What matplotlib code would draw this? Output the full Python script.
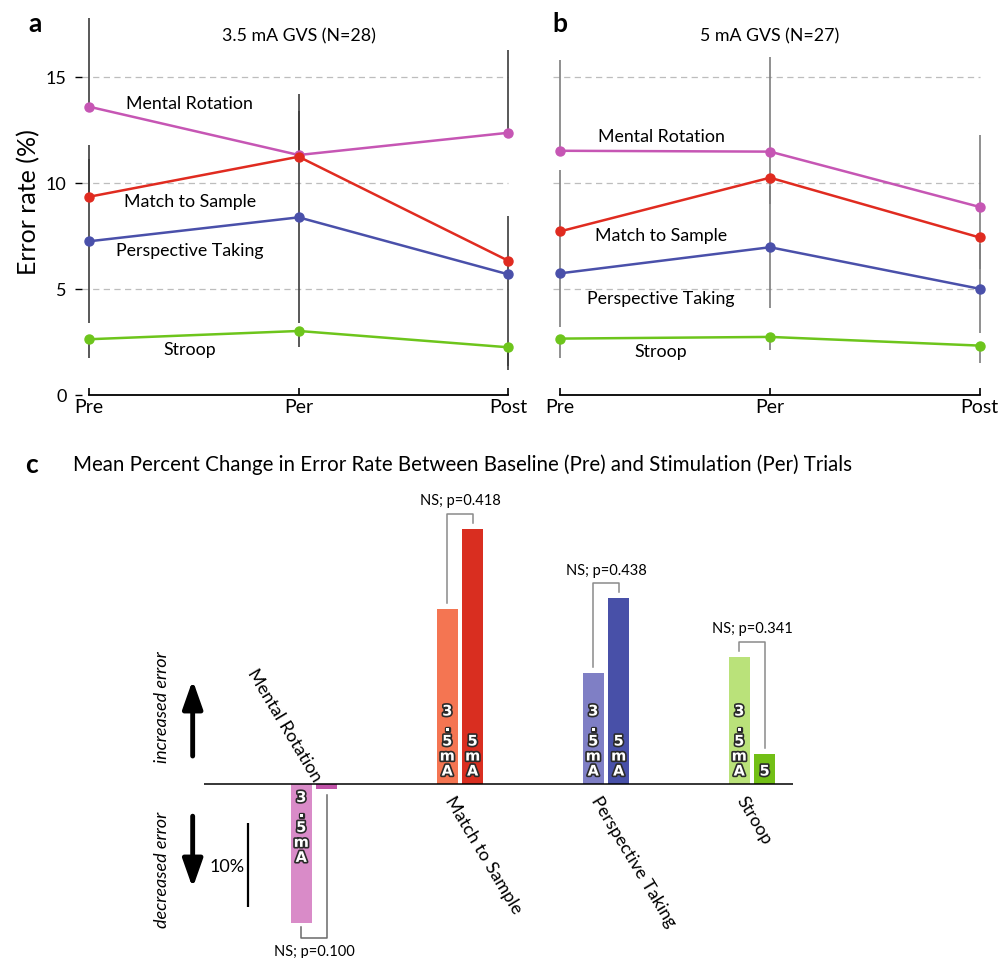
import matplotlib
matplotlib.use("Agg")
import matplotlib.pyplot as plt
import matplotlib.patheffects as pe
import numpy as np

plt.rcParams["font.family"] = ["Lato", "DejaVu Sans"]

PHASES = ["Pre", "Per", "Post"]
TASKS = ["Mental Rotation", "Match to Sample", "Perspective Taking", "Stroop"]

# panel a: 3.5 mA GVS, error rate (%)
MR_35 = [13.6, 11.32, 12.37]
MS_35 = [9.35, 11.24, 6.33]
PT_35 = [7.25, 8.38, 5.69]
ST_35 = [2.63, 3.02, 2.25]
# error bar extents (up / down)
MR_35_UP = [4.2, 2.9, 3.9]
MR_35_DN = [0, 0, 0]
MS_35_UP = [2.45, 0, 2.1]
MS_35_DN = [0, 0, 0]
PT_35_UP = [3.87, 5.0, 0.7]
PT_35_DN = [3.87, 5.0, 4.3]
ST_35_UP = [0, 0, 0]
ST_35_DN = [0.88, 0.74, 1.07]

# panel b: 5 mA GVS
MR_5 = [11.52, 11.48, 8.87]
MS_5 = [7.72, 10.25, 7.43]
PT_5 = [5.74, 6.97, 5.01]
ST_5 = [2.66, 2.74, 2.33]
MR_5_UP = [4.28, 4.48, 3.39]
MR_5_DN = [0, 0, 0]
MS_5_UP = [2.89, 1.25, 1.5]
MS_5_DN = [0, 1.25, 1.5]
PT_5_UP = [2.52, 2.88, 2.1]
PT_5_DN = [2.52, 2.88, 2.1]
ST_5_UP = [0, 0, 0]
ST_5_DN = [0.93, 0.62, 0.81]

# panel c: mean percent change Pre -> Per
CHANGE_35 = [-16.6, 20.8, 13.25, 15.1]
CHANGE_5 = [-0.55, 30.4, 22.1, 3.57]
P_VALUES = [0.100, 0.418, 0.438, 0.341]
BAR_TEXT_35 = ["3.5mA", "3.5mA", "3.5mA", "3.5mA"]
BAR_TEXT_5 = ["", "5mA", "5mA", "5"]

LINE_COLORS = ["#c656b4", "#e02b20", "#4a50aa", "#6dc51c"]
COL_35 = ["#d98bc8", "#f47552", "#7f7fc5", "#bae27a"]
COL_5 = ["#c052a8", "#d92e20", "#4850a8", "#72bf16"]

W, H = 1003, 958
fig = plt.figure(figsize=(W / 100, H / 100), dpi=100)

PX_X = 209.7  # px per phase step
PX_Y = 21.2   # px per error-rate unit


def line_panel(left_px, pre_px, right_px, series, title, show_y, err_color, label_y):
    ax = fig.add_axes([left_px / W, (H - 395) / H, (right_px - left_px) / W, 385 / H])
    ax.set_xlim((left_px - pre_px) / PX_X, (right_px - pre_px) / PX_X)
    ax.set_ylim(0, 385 / PX_Y)
    x = np.arange(len(PHASES))

    for yv in [5, 10, 15]:
        ax.plot([ax.get_xlim()[0], 2], [yv, yv], color="#bdbdbd", lw=0.9,
                ls=(0, (5, 3.5)), zorder=1)

    for i, (vals, up, dn) in enumerate(series):
        vals = np.array(vals)
        lo = vals - np.array(dn)
        hi = vals + np.array(up)
        ax.vlines(x, lo, hi, color=err_color, lw=1.2, zorder=2)
        ax.plot(x, vals, color=LINE_COLORS[i], lw=1.8, zorder=3)
        ax.plot(x, vals, "o", color=LINE_COLORS[i], ms=6.5, zorder=4)
        ax.text(0.48, label_y[i], TASKS[i], ha="center", va="center", fontsize=12.8)

    ax.text(1, 16.9, title, ha="center", va="center", fontsize=12.8)

    for s in ["top", "right", "left"]:
        ax.spines[s].set_visible(False)
    ax.spines["bottom"].set_bounds(0, 2)
    ax.spines["bottom"].set_linewidth(1.3)
    ax.set_xticks(x)
    ax.set_xticklabels(PHASES, fontsize=14)
    ax.tick_params(axis="x", direction="in", length=5, width=1.2, pad=3)
    if show_y:
        ax.set_yticks([0, 5, 10, 15])
        ax.tick_params(axis="y", direction="out", length=5, width=1.0, pad=6,
                       labelsize=13)
        ax.set_ylabel("Error rate (%)", fontsize=18, labelpad=4)
    else:
        ax.set_yticks([])
    ax.patch.set_visible(False)
    return ax


line_panel(82, 89, 520,
           [(MR_35, MR_35_UP, MR_35_DN), (MS_35, MS_35_UP, MS_35_DN),
            (PT_35, PT_35_UP, PT_35_DN), (ST_35, ST_35_UP, ST_35_DN)],
           "3.5 mA GVS (N=28)", True, "#3c3c3c", [13.73, 9.1, 6.81, 2.12])
line_panel(553, 560.3, 995,
           [(MR_5, MR_5_UP, MR_5_DN), (MS_5, MS_5_UP, MS_5_DN),
            (PT_5, PT_5_UP, PT_5_DN), (ST_5, ST_5_UP, ST_5_DN)],
           "5 mA GVS (N=27)", False, "#7d7d7d", [12.15, 7.51, 4.51, 2.01])

fig.text(35 / W, 1 - 24 / H, "a", fontsize=19, fontweight="bold", ha="center", va="center")
fig.text(560 / W, 1 - 24 / H, "b", fontsize=19, fontweight="bold", ha="center", va="center")
fig.text(32 / W, 1 - 465 / H, "c", fontsize=19, fontweight="bold", ha="center", va="center")
fig.text(73 / W, 1 - 465 / H,
         "Mean Percent Change in Error Rate Between Baseline (Pre) and Stimulation (Per) Trials",
         fontsize=14.8, ha="left", va="center")

# panel c
GX = 146.0   # px per group
GY = 8.4     # px per percent
ax = fig.add_axes([0, 0, 1, 478 / H])
ax.set_xlim(-314 / GX, (W - 314) / GX)
ax.set_ylim(-(H - 784) / GY, 304 / GY)
ax.axis("off")

gx = np.arange(len(TASKS))
bw = 20.5 / GX
off = 12.7 / GX
ax.bar(gx - off, CHANGE_35, width=bw, color=COL_35, zorder=2)
ax.bar(gx + off, CHANGE_5, width=bw, color=COL_5, zorder=2)
ax.hlines(0, -0.75, 3.28, color="black", lw=1.1, zorder=3)

stroke = [pe.withStroke(linewidth=2.4, foreground="#2a2a2a")]
for i in range(len(TASKS)):
    for xc, val, txt in [(gx[i] - off, CHANGE_35[i], BAR_TEXT_35[i]),
                         (gx[i] + off, CHANGE_5[i], BAR_TEXT_5[i])]:
        if not txt:
            continue
        ypos = 0.65 if val > 0 else -0.7
        ax.text(xc, ypos, "\n".join(txt), ha="center",
                va="bottom" if val > 0 else "top", color="white",
                fontsize=10.5, fontweight="bold", linespacing=1.0,
                family="DejaVu Sans", path_effects=stroke, zorder=4)

    a, b = CHANGE_35[i], CHANGE_5[i]
    xl, xr = gx[i] - off, gx[i] + off
    if a > 0:
        top = max(a, b) + 1.8
        ax.plot([xl, xl, xr, xr], [a + 0.7, top, top, b + 0.7], color="#8a8a8a", lw=1.1)
        ax.text(gx[i], top + 1.5, f"NS; p={P_VALUES[i]:.3f}", ha="center",
                va="center", fontsize=10.5)
    else:
        bot = min(a, b) - 1.7
        ax.plot([xl, xl, xr, xr], [a - 0.45, bot, bot, b - 0.75], color="#6a6a6a", lw=1.1)
        ax.text(gx[i], bot - 1.7, f"NS; p={P_VALUES[i]:.3f}", ha="center",
                va="center", fontsize=10.5)

# category labels
ax.text(gx[0] + 0.07, 0.9, TASKS[0], rotation=-59, rotation_mode="anchor",
        ha="right", va="top", fontsize=13)
for i in range(1, len(TASKS)):
    ax.text(gx[i] - 0.03, -1.2, TASKS[i], rotation=-59, rotation_mode="anchor",
            ha="left", va="top", fontsize=13)

# direction arrows and scale bar
ax.annotate("", xy=(-0.831, 12.7), xytext=(-0.831, 3.0),
            arrowprops=dict(arrowstyle="-|>,head_length=1.7,head_width=0.6",
                            color="black", lw=3.5))
ax.annotate("", xy=(-0.831, -12.7), xytext=(-0.831, -3.5),
            arrowprops=dict(arrowstyle="-|>,head_length=1.7,head_width=0.6",
                            color="black", lw=3.5))
ax.text(-1.043, 9.2, "increased error", rotation=90, ha="center", va="center",
        fontsize=13, style="italic")
ax.text(-1.043, -10.2, "decreased error", rotation=90, ha="center", va="center",
        fontsize=13, style="italic")
ax.vlines(-0.454, -14.6, -4.6, color="black", lw=1.6)
ax.text(-0.596, -9.9, "10%", ha="center", va="center", fontsize=13)

fig.savefig("out.png", dpi=100)
